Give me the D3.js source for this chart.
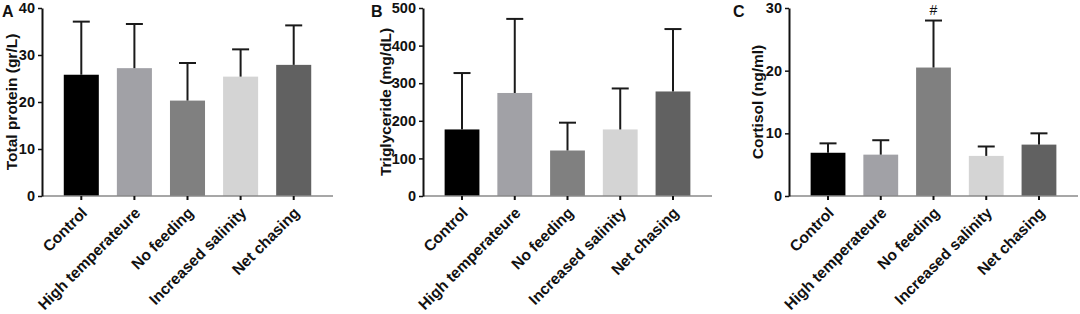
<!DOCTYPE html>
<html>
<head>
<meta charset="utf-8">
<script src="https://cdn.jsdelivr.net/npm/d3@7"></script>
<style>
  body { margin: 0; background: #fff; }
  svg text { font-family: "Liberation Sans", Arial, sans-serif; font-weight: bold; fill: #111; }
</style>
</head>
<body>
<div id="chart"></div>
<script>
// groups shared by all three panels
const groups = ["Control", "High temperateure", "No feeding", "Increased salinity", "Net chasing"];
const barColors = ["#000000", "#a1a1a6", "#808080", "#d4d4d4", "#616161"];

// panel A - total protein
const proteinMean = [25.8, 27.2, 20.3, 25.4, 27.9];
const proteinTop = [37.1, 36.6, 28.3, 31.2, 36.3];
const proteinTicks = [0, 10, 20, 30, 40];

// panel B - triglyceride
const trigMean = [177, 274, 121, 177, 278];
const trigTop = [327, 471, 195, 286, 444];
const trigTicks = [0, 100, 200, 300, 400, 500];

// panel C - cortisol
const cortisolMean = [6.9, 6.6, 20.5, 6.4, 8.2];
const cortisolTop = [8.4, 8.9, 28.0, 7.9, 10.0];
const cortisolTicks = [0, 10, 20, 30];
const cortisolMarks = ["", "", "#", "", ""];

class BarPanel {

    constructor(svg, opts){
        this.svg = svg
        this.opts = opts
        this.initVis()
    }

    initVis(){
        let vis = this
        let o = vis.opts

        vis.g = vis.svg.append("g")

        vis.xScale = d3.scaleBand()
            .domain(groups)
            .range([o.left, o.right])
            .paddingInner(0.34)
            .paddingOuter(0.41)

        vis.yScale = d3.scaleLinear()
            .domain([0, d3.max(o.ticks)])
            .range([o.bottom, o.top])

        // bars
        vis.g.selectAll(".bar")
            .data(o.mean)
            .join("rect")
            .attr("class", "bar")
            .attr("x", (d, i) => vis.xScale(groups[i]))
            .attr("width", vis.xScale.bandwidth())
            .attr("y", d => vis.yScale(d))
            .attr("height", d => o.bottom - vis.yScale(d))
            .attr("fill", (d, i) => barColors[i])

        // error bars (upper only)
        let cx = i => vis.xScale(groups[i]) + vis.xScale.bandwidth() / 2
        vis.g.selectAll(".err")
            .data(o.errTop)
            .join("line")
            .attr("class", "err")
            .attr("x1", (d, i) => cx(i)).attr("x2", (d, i) => cx(i))
            .attr("y1", (d, i) => vis.yScale(o.mean[i]))
            .attr("y2", d => vis.yScale(d))
            .attr("stroke", "#1a1a1a").attr("stroke-width", 2)
        vis.g.selectAll(".cap")
            .data(o.errTop)
            .join("line")
            .attr("class", "cap")
            .attr("x1", (d, i) => cx(i) - 8.5).attr("x2", (d, i) => cx(i) + 8.5)
            .attr("y1", d => vis.yScale(d)).attr("y2", d => vis.yScale(d))
            .attr("stroke", "#1a1a1a").attr("stroke-width", 2)

        if (o.marks) {
            vis.g.selectAll(".mark")
                .data(o.marks)
                .join("text")
                .attr("class", "mark")
                .attr("x", (d, i) => cx(i))
                .attr("y", (d, i) => vis.yScale(o.errTop[i]) - 6)
                .attr("text-anchor", "middle")
                .style("font-weight", "normal")
                .style("font-size", "14px")
                .text(d => d)
        }

        // x axis: grey base line, short black ticks
        vis.g.append("line")
            .attr("x1", o.left).attr("x2", o.right)
            .attr("y1", o.bottom).attr("y2", o.bottom)
            .attr("stroke", "#8a8a8a").attr("stroke-width", 1.5)

        vis.xAxis = d3.axisBottom(vis.xScale).tickSize(4).tickPadding(0)
        let xg = vis.g.append("g")
            .attr("transform", `translate(0,${o.bottom})`)
            .call(vis.xAxis)
        xg.select(".domain").remove()
        xg.selectAll(".tick line").attr("stroke", "#111").attr("stroke-width", 2)
        xg.selectAll(".tick text")
            .attr("text-anchor", "end")
            .attr("transform", "translate(3,14) rotate(-45)")
            .attr("y", 0).attr("dy", "0.35em")
            .style("font-size", "15.5px")

        // y axis
        vis.yAxis = d3.axisLeft(vis.yScale).tickValues(o.ticks).tickSize(4).tickPadding(3).tickSizeOuter(0)
        let yg = vis.g.append("g")
            .attr("transform", `translate(${o.left},0)`)
            .call(vis.yAxis)
        yg.select(".domain").attr("stroke", "#111").attr("stroke-width", 2)
        yg.selectAll(".tick line").attr("stroke", "#111").attr("stroke-width", 1.5)
        yg.selectAll(".tick text").style("font-size", "14.5px")

        // y title
        vis.g.append("text")
            .attr("transform", `translate(${o.titleX},${(o.top + o.bottom) / 2}) rotate(-90)`)
            .attr("text-anchor", "middle")
            .style("font-size", "15.5px")
            .text(o.title)

        // panel letter
        vis.g.append("text")
            .attr("x", o.letterX).attr("y", 17)
            .style("font-size", "16px")
            .text(o.letter)
    }
}

const svg = d3.select("#chart").append("svg")
    .attr("width", 1080)
    .attr("height", 314)

new BarPanel(svg, {letter: "A", letterX: 2, title: "Total protein (gr/L)", titleX: 17,
    left: 42, right: 333, top: 8, bottom: 196,
    mean: proteinMean, errTop: proteinTop, ticks: proteinTicks})
new BarPanel(svg, {letter: "B", letterX: 371, title: "Triglyceride (mg/dL)", titleX: 391,
    left: 423, right: 712, top: 8, bottom: 196,
    mean: trigMean, errTop: trigTop, ticks: trigTicks})
new BarPanel(svg, {letter: "C", letterX: 733, title: "Cortisol (ng/ml)", titleX: 763,
    left: 789, right: 1078, top: 8, bottom: 196,
    mean: cortisolMean, errTop: cortisolTop, ticks: cortisolTicks, marks: cortisolMarks})
</script>
</body>
</html>
